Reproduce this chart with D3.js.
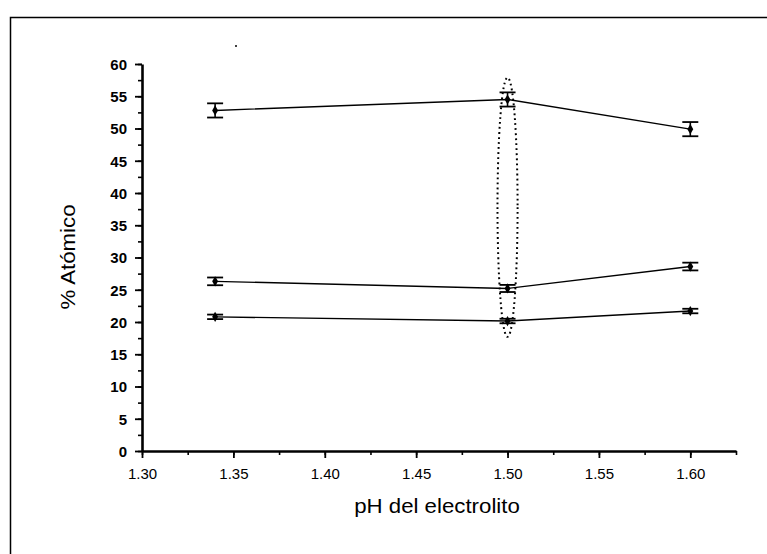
<!DOCTYPE html>
<html><head><meta charset="utf-8">
<script src="https://cdn.jsdelivr.net/npm/d3@7"></script>
<style>body{margin:0;background:#fff}svg{display:block}</style>
</head><body>
<svg id="c" width="767" height="554"></svg>
<script>
const phValues = [1.34, 1.50, 1.60];
const seriesTop = [52.8, 54.5, 49.9];
const errTop = [1.1, 1.1, 1.1];
const seriesMid = [26.3, 25.2, 28.6];
const errMid = [0.6, 0.55, 0.6];
const seriesLow = [20.8, 20.15, 21.7];
const errLow = [0.35, 0.35, 0.35];
const xTicks = [1.30, 1.35, 1.40, 1.45, 1.50, 1.55, 1.60];
const yTicks = [0,5,10,15,20,25,30,35,40,45,50,55,60];
const ellipseCenter = [1.50, 37.8];
const ellipseRadius = [0.0055, 20.1];

const svg = d3.select('#c');
const font = 'Liberation Sans, Arial, sans-serif';
const x = d3.scaleLinear().domain([1.30, 1.625]).range([142, 736]);
const y = d3.scaleLinear().domain([0, 60]).range([451, 64]);

// frame
svg.append('path').attr('d','M10.5,554 V17.5 H767').attr('fill','none').attr('stroke','#000').attr('stroke-width',1.5);

// axes
const xMinor = d3.range(1.30, 1.626, 0.025);
const gx = svg.append('g').attr('transform','translate(0,451)');
gx.append('g').call(d3.axisBottom(x).tickValues(xMinor).tickSize(4).tickFormat(''))
  .call(g=>g.select('.domain').remove()).selectAll('line').attr('stroke-width',1.6);
const gxm = gx.append('g').call(d3.axisBottom(x).tickValues(xTicks).tickSize(7).tickSizeOuter(0).tickFormat(d3.format('.2f')));
gxm.select('.domain').attr('stroke-width',2.6);
gxm.selectAll('line').attr('stroke-width',1.8);
gxm.selectAll('text').attr('font-family',font).attr('font-size',15).attr('fill','#000')
  .attr('y',28).attr('dy',0);

const yMinor = d3.range(0, 60.1, 2.5);
const gy = svg.append('g').attr('transform','translate(142,0)');
gy.append('g').call(d3.axisLeft(y).tickValues(yMinor).tickSize(4).tickFormat(''))
  .call(g=>g.select('.domain').remove()).selectAll('line').attr('stroke-width',1.6);
const gym = gy.append('g').call(d3.axisLeft(y).tickValues(yTicks).tickSize(7).tickSizeOuter(0));
gym.select('.domain').attr('stroke-width',2.6);
gym.selectAll('line').attr('stroke-width',1.8);
gym.selectAll('text').attr('font-family',font).attr('font-size',15).attr('font-weight','bold').attr('fill','#000')
  .attr('x',-15).attr('dy','0.36em');

// labels
svg.append('text').attr('x',437).attr('y',513).attr('text-anchor','middle')
  .attr('font-family',font).attr('font-size',21).attr('transform','translate(437,0) scale(1.06,1) translate(-437,0)')
  .text('pH del electrolito');
svg.append('text').attr('transform','translate(75,257) rotate(-90) scale(1.06,1)').attr('text-anchor','middle')
  .attr('font-family',font).attr('font-size',21).text('% Atómico');

// series
const series = [[seriesTop, errTop],[seriesMid, errMid],[seriesLow, errLow]];
const line = d3.line().x(d=>x(d[0])).y(d=>y(d[1]));
series.forEach(([vals, errs])=>{
  const pts = phValues.map((p,i)=>[p, vals[i], errs[i]]);
  svg.append('path').attr('d', line(pts)).attr('fill','none').attr('stroke','#000').attr('stroke-width',1.4);
  const g = svg.append('g');
  pts.forEach(d=>{
    const cx = x(d[0]);
    const y1 = y(d[1]+d[2]), y2 = y(d[1]-d[2]);
    g.append('line').attr('x1',cx).attr('x2',cx).attr('y1',y1).attr('y2',y2).attr('stroke','#000').attr('stroke-width',1.6);
    [y1,y2].forEach(yy=>g.append('line').attr('x1',cx-8).attr('x2',cx+8).attr('y1',yy).attr('y2',yy).attr('stroke','#000').attr('stroke-width',1.8));
    g.append('path').attr('d', d3.symbol(d3.symbolDiamond, 30)()).attr('transform',`translate(${cx},${y(d[1])})`).attr('fill','#000');
  });
});

// dotted ellipse
svg.append('ellipse')
  .attr('cx', x(ellipseCenter[0])).attr('cy', y(ellipseCenter[1]))
  .attr('rx', x(ellipseCenter[0]+ellipseRadius[0]) - x(ellipseCenter[0]))
  .attr('ry', y(ellipseCenter[1]-ellipseRadius[1]) - y(ellipseCenter[1]))
  .attr('fill','none').attr('stroke','#000').attr('stroke-width',2).attr('stroke-dasharray','1.8,3.2');

// scan speck
svg.append('circle').attr('cx',236).attr('cy',46).attr('r',1).attr('fill','#000');
</script>
</body></html>
